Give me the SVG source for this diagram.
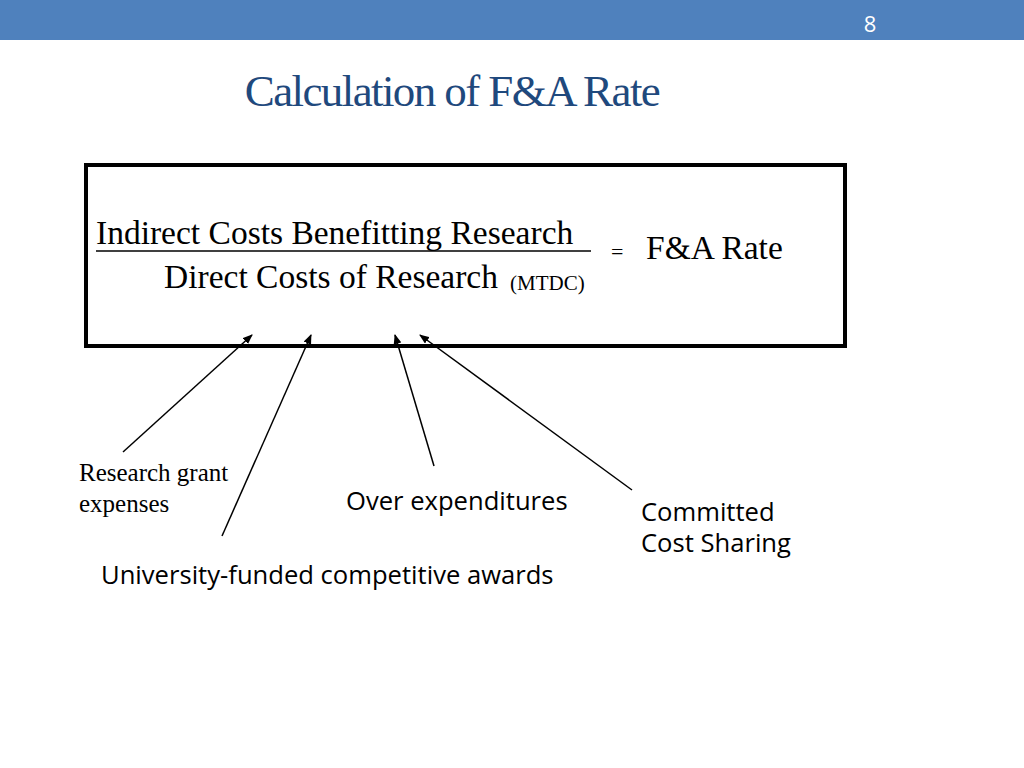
<svg xmlns="http://www.w3.org/2000/svg" width="1024" height="768" viewBox="0 0 1024 768">
<defs>
<marker id="ah" markerWidth="10" markerHeight="8" refX="9" refY="4" orient="auto" markerUnits="userSpaceOnUse">
<path d="M0,0 L10,4 L0,8 Z" fill="#000"/>
</marker>
<style>
.serif{font-family:"Liberation Serif",serif;fill:#000}
.sans{font-family:"Open Sans","Liberation Sans",sans-serif;fill:#000;font-size:25.6px}
.conn line{stroke:#000;stroke-width:1.5;marker-end:url(#ah)}
</style>
</defs>
<rect x="0" y="0" width="1024" height="768" fill="#fff"/>
<rect x="0" y="0" width="1024" height="40" fill="#4f81bd"/>
<text x="870" y="32" font-family="Open Sans, Liberation Sans, sans-serif" font-size="22" fill="#fff" text-anchor="middle">8</text>
<text x="452" y="106" font-family="Liberation Serif, serif" font-size="45" fill="#1f497d" text-anchor="middle" letter-spacing="-1.6">Calculation of F&amp;A Rate</text>
<g id="formula">
<rect x="86" y="165" width="759" height="181" fill="none" stroke="#000" stroke-width="4"/>
<text class="serif" x="96" y="244" font-size="33.5">Indirect Costs Benefitting Research</text>
<line x1="96" y1="251" x2="591" y2="251" stroke="#000" stroke-width="1.5"/>
<text class="serif" x="164" y="288" font-size="33.5">Direct Costs of Research</text>
<text class="serif" x="510" y="290" font-size="21">(MTDC)</text>
<text class="serif" x="611" y="259" font-size="22">=</text>
<text class="serif" x="646" y="259" font-size="33.5">F&amp;A Rate</text>
</g>
<g class="conn">
<line x1="123" y1="452" x2="252" y2="335"/>
<line x1="222" y1="536" x2="311" y2="335"/>
<line x1="434" y1="466" x2="395" y2="335"/>
<line x1="632" y1="490" x2="420" y2="335"/>
</g>
<g id="research-grant"><text class="serif" x="79" y="481" font-size="25">Research grant</text><text class="serif" x="79" y="512" font-size="25">expenses</text></g>
<g id="over-exp"><text class="sans" x="346" y="510">Over expenditures</text></g>
<g id="committed"><text class="sans" x="641" y="521">Committed</text><text class="sans" x="641" y="552">Cost Sharing</text></g>
<g id="univ"><text class="sans" x="101" y="584">University-funded competitive awards</text></g>
</svg>
